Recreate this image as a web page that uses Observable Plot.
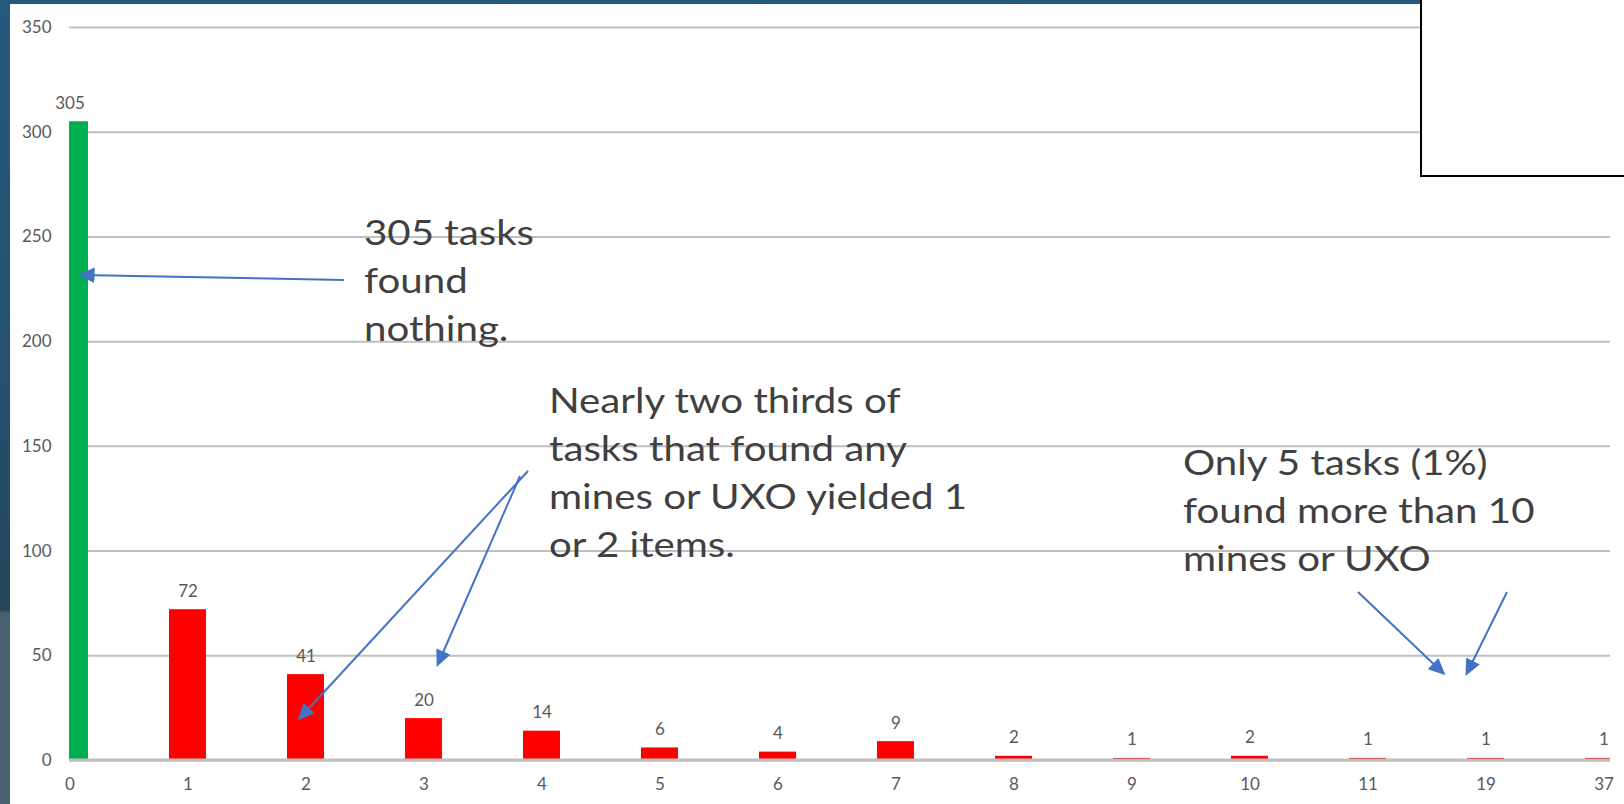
<!DOCTYPE html>
<html><head><meta charset="utf-8">
<script src="https://cdn.jsdelivr.net/npm/d3@7"></script>
<script src="https://cdn.jsdelivr.net/npm/@observablehq/plot@0.6"></script>
<style>
html,body{margin:0;padding:0;width:1624px;height:804px;overflow:hidden;}
body{position:relative;background:linear-gradient(to bottom,#25597d 0px,#25506f 380px,#26465a 610px,#4a626d 613px,#4a626d 804px);}
#panel{position:absolute;left:10px;top:4px;width:1614px;height:800px;background:#fff;}
#chart{position:absolute;left:0;top:0;}
#box{position:absolute;left:1420px;top:-4px;width:220px;height:179px;background:#fff;border-left:2px solid #000;border-bottom:2px solid #000;}
</style></head><body>
<div id="panel"></div>
<div id="chart"></div>
<div id="box"></div>
<script>
// ---- data ----
const categories = ["0","1","2","3","4","5","6","7","8","9","10","11","19","37"];
const counts     = [305, 72, 41, 20, 14, 6, 4, 9, 2, 1, 2, 1, 1, 1];
const yTicks     = [0, 50, 100, 150, 200, 250, 300, 350];
const note1 = ["305 tasks", "found", "nothing."];
const note2 = ["Nearly two thirds of", "tasks that found any", "mines or UXO yielded 1", "or 2 items."];
const note3 = ["Only 5 tasks (1%)", "found more than 10", "mines or UXO"];

const data = categories.map((c, i) => ({cat: c, count: counts[i]}));

// ---- layout ----
const W = 1624, H = 804;
const fLeft = 69, fRight = 1610, fTop = 27, fBottom = 760;
const step = (fRight - fLeft) / (categories.length - 1);
const bw = 37;
const pi = 1 - bw / step;
const r0 = fLeft - bw / 2;
const r1 = r0 + step * (categories.length - pi);

const green = "#00B050", red = "#FF0000", grey = "#595959";

const chart = Plot.plot({
  width: W, height: H,
  marginLeft: fLeft, marginRight: W - fRight, marginTop: fTop, marginBottom: H - fBottom,
  style: {fontFamily: "Lato, 'Open Sans', sans-serif", background: "transparent", overflow: "visible"},
  x: {type: "band", domain: categories, range: [r0, r1], paddingInner: pi, paddingOuter: 0, align: 0},
  y: {domain: [0, 350]},
  marks: [
    Plot.gridY(yTicks, {stroke: "#bfbfbf", strokeOpacity: 1, strokeWidth: 2}),
    Plot.barY(data, {x: "cat", y: "count", fill: d => d.cat === "0" ? green : red, clip: true}),
    Plot.ruleY([0], {stroke: "#bfbfbf", strokeOpacity: 1, strokeWidth: 3, dy: -0.5}),
    Plot.text(data, {x: "cat", y: "count", text: d => String(d.count), dy: -13, lineAnchor: "bottom", fontSize: 17, fill: grey}),
    Plot.axisY(yTicks, {tickSize: 0, tickPadding: 18, fontSize: 17, color: grey, label: null}),
    Plot.axisX({tickSize: 0, tickPadding: 17, fontSize: 17, color: grey, label: null})
  ]
});
document.getElementById("chart").appendChild(chart);

// ---- annotations ----
const svg = d3.select(chart);
const defs = svg.append("defs");
defs.append("marker").attr("id", "ah").attr("viewBox", "0 0 10 10")
  .attr("refX", 8).attr("refY", 5).attr("markerWidth", 8.5).attr("markerHeight", 8.5)
  .attr("markerUnits", "strokeWidth").attr("orient", "auto")
  .append("path").attr("d", "M0,0.5 L10,5 L0,9.5 Z").attr("fill", "#4472C4");

const g = svg.append("g").attr("text-anchor", "start");
const arrows = [[344,280,81,275],[528,471,300,718],[520,476,438,664],[1358,592,1443,673],[1507,592,1467,673]];
arrows.forEach(a => g.append("line").attr("x1", a[0]).attr("y1", a[1]).attr("x2", a[2]).attr("y2", a[3])
  .attr("stroke", "#4472C4").attr("stroke-width", 2).attr("marker-end", "url(#ah)"));

function note(lines, x, y) {
  const t = g.append("text").attr("transform", `translate(${x},${y}) scale(1.15,1)`).attr("text-anchor", "start")
    .attr("font-family", "Lato, sans-serif").attr("font-size", 35).attr("fill", "#404040");
  lines.forEach((l, i) => t.append("tspan").attr("x", 0).attr("y", i * 48).text(l));
}
note(note1, 364, 245);
note(note2, 549, 413);
note(note3, 1183, 475);
</script>
</body></html>
